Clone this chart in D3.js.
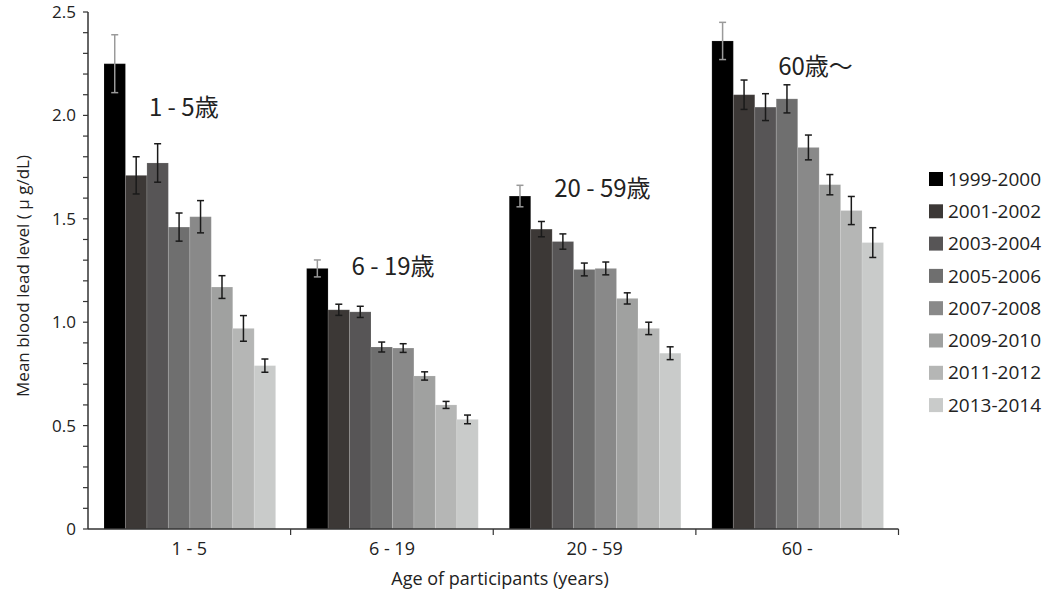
<!DOCTYPE html>
<html>
<head>
<meta charset="utf-8">
<script src="https://cdn.jsdelivr.net/npm/d3@7"></script>
<style>
  body { margin: 0; background: #fff; }
  text { font-family: "Open Sans", "Noto Sans", sans-serif; fill: #222; }
</style>
</head>
<body>
<div id="chart"></div>
<script>
  var w = 1059,
      h = 591;

  // age groups and survey periods
  var groups = ["1 - 5", "6 - 19", "20 - 59", "60 -"];
  var periods = ["1999-2000", "2001-2002", "2003-2004", "2005-2006",
                 "2007-2008", "2009-2010", "2011-2012", "2013-2014"];
  var colors = ["#000000", "#3c3836", "#575556", "#6f6f6f",
                "#898989", "#a0a1a0", "#b5b6b5", "#c9cbca"];

  // mean blood lead level (ug/dL), one row per age group
  var means = [
    [2.25, 1.71, 1.77, 1.46, 1.51, 1.17, 0.97, 0.79],
    [1.26, 1.06, 1.05, 0.88, 0.875, 0.74, 0.60, 0.53],
    [1.61, 1.45, 1.39, 1.255, 1.26, 1.115, 0.97, 0.85],
    [2.36, 2.10, 2.04, 2.08, 1.845, 1.665, 1.54, 1.385]
  ];
  // half width of the error bars
  var errs = [
    [0.14, 0.09, 0.093, 0.068, 0.078, 0.055, 0.062, 0.032],
    [0.041, 0.027, 0.027, 0.024, 0.021, 0.02, 0.017, 0.021],
    [0.052, 0.037, 0.037, 0.031, 0.031, 0.027, 0.03, 0.031],
    [0.09, 0.071, 0.065, 0.068, 0.06, 0.049, 0.068, 0.072]
  ];

  // notes drawn above each group, with the level they sit at
  var notes = ["1 - 5歳", "6 - 19歳", "20 - 59歳", "60歳〜"];
  var noteLevel = [2.04, 1.27, 1.645, 2.235];
  var noteBar = [2, 2, 2, 3];

  var yTicks = [0, 0.5, 1.0, 1.5, 2.0, 2.5];
  var yTickLabels = ["0", "0.5", "1.0", "1.5", "2.0", "2.5"];

  var svg = d3.select("#chart").append("svg")
      .attr("width", w)
      .attr("height", h);

  var y = d3.scaleLinear().domain([0, 2.5]).range([529, 12]);
  var x0 = d3.scaleBand().domain(groups).range([88, 898.5]);
  var x1 = d3.scaleBand().domain(periods).range([16, x0.bandwidth() - 15]);

  var rows = [];
  groups.forEach(function(g, gi) {
    periods.forEach(function(p, pi) {
      rows.push({g: g, p: p, pi: pi, v: means[gi][pi], e: errs[gi][pi]});
    });
  });

  // bars
  svg.append("g").selectAll("rect").data(rows)
    .enter().append("rect")
    .attr("x", function(d) { return x0(d.g) + x1(d.p); })
    .attr("y", function(d) { return y(d.v); })
    .attr("width", x1.bandwidth())
    .attr("height", function(d) { return y(0) - y(d.v); })
    .attr("fill", function(d) { return colors[d.pi]; })
    .attr("stroke", "rgba(255,255,255,0.12)")
    .attr("stroke-width", 1);

  // error bars
  var eb = svg.append("g").selectAll("g").data(rows)
    .enter().append("g")
    .attr("stroke", function(d) { return d.pi == 0 ? "#9a9a9a" : "#1a1a1a"; })
    .attr("stroke-width", 1.5);
  function cx(d) { return x0(d.g) + x1(d.p) + x1.bandwidth() / 2; }
  eb.append("line")
    .attr("x1", cx).attr("x2", cx)
    .attr("y1", function(d) { return y(d.v + d.e); })
    .attr("y2", function(d) { return y(d.v - d.e); });
  [1, -1].forEach(function(s) {
    eb.append("line")
      .attr("x1", function(d) { return cx(d) - 3.5; })
      .attr("x2", function(d) { return cx(d) + 3.5; })
      .attr("y1", function(d) { return y(d.v + s * d.e); })
      .attr("y2", function(d) { return y(d.v + s * d.e); });
  });

  // y axis with minor ticks every 0.1
  var yAxis = svg.append("g");
  yAxis.append("line")
    .attr("x1", 88).attr("x2", 88)
    .attr("y1", y(2.5)).attr("y2", y(0))
    .attr("stroke", "#333").attr("stroke-width", 1.5);
  yAxis.selectAll(".minor").data(d3.range(0, 26))
    .enter().append("line")
    .attr("x1", 83).attr("x2", 88)
    .attr("y1", function(d) { return y(d / 10); })
    .attr("y2", function(d) { return y(d / 10); })
    .attr("stroke", "#333").attr("stroke-width", 1.2);
  yAxis.selectAll("text").data(yTicks)
    .enter().append("text")
    .attr("x", 76)
    .attr("y", function(d) { return y(d); })
    .attr("dy", "0.35em")
    .attr("text-anchor", "end")
    .style("font-size", "17px")
    .text(function(d, i) { return yTickLabels[i]; });

  svg.append("text")
    .attr("transform", "translate(29," + 276 + ") rotate(-90)")
    .attr("text-anchor", "middle")
    .style("font-size", "17px")
    .text("Mean blood lead level ( μ g/dL)");

  // x axis, ticks sit between the groups
  var xAxis = svg.append("g");
  xAxis.append("line")
    .attr("x1", 88).attr("x2", 898.5)
    .attr("y1", y(0)).attr("y2", y(0))
    .attr("stroke", "#333").attr("stroke-width", 1.5);
  xAxis.selectAll(".tick").data(groups)
    .enter().append("line")
    .attr("x1", function(d) { return x0(d) + x0.bandwidth(); })
    .attr("x2", function(d) { return x0(d) + x0.bandwidth(); })
    .attr("y1", y(0)).attr("y2", y(0) + 6)
    .attr("stroke", "#333").attr("stroke-width", 1.2);
  xAxis.selectAll("text").data(groups)
    .enter().append("text")
    .attr("x", function(d) { return x0(d) + x0.bandwidth() / 2; })
    .attr("y", 555)
    .attr("text-anchor", "middle")
    .style("font-size", "18px")
    .text(function(d) { return d; });

  svg.append("text")
    .attr("x", 500).attr("y", 585)
    .attr("text-anchor", "middle")
    .style("font-size", "18px")
    .text("Age of participants (years)");

  // group notes
  svg.append("g").selectAll("text").data(notes)
    .enter().append("text")
    .attr("x", function(d, i) { return x0(groups[i]) + x1(periods[noteBar[i]]) + 2; })
    .attr("y", function(d, i) { return y(noteLevel[i]); })
    .attr("dy", "0.35em")
    .style("font-family", "'Noto Sans CJK JP', sans-serif")
    .style("font-size", "24px")
    .text(function(d) { return d; });

  // legend
  var leg = svg.append("g").selectAll("g").data(periods)
    .enter().append("g")
    .attr("transform", function(d, i) { return "translate(929," + (179 + i * 32.3) + ")"; });
  leg.append("rect")
    .attr("x", 0).attr("y", -7)
    .attr("width", 14).attr("height", 14)
    .attr("fill", function(d, i) { return colors[i]; });
  leg.append("text")
    .attr("x", 19).attr("dy", "0.35em")
    .style("font-size", "19px")
    .text(function(d) { return d; });
</script>
</body>
</html>
